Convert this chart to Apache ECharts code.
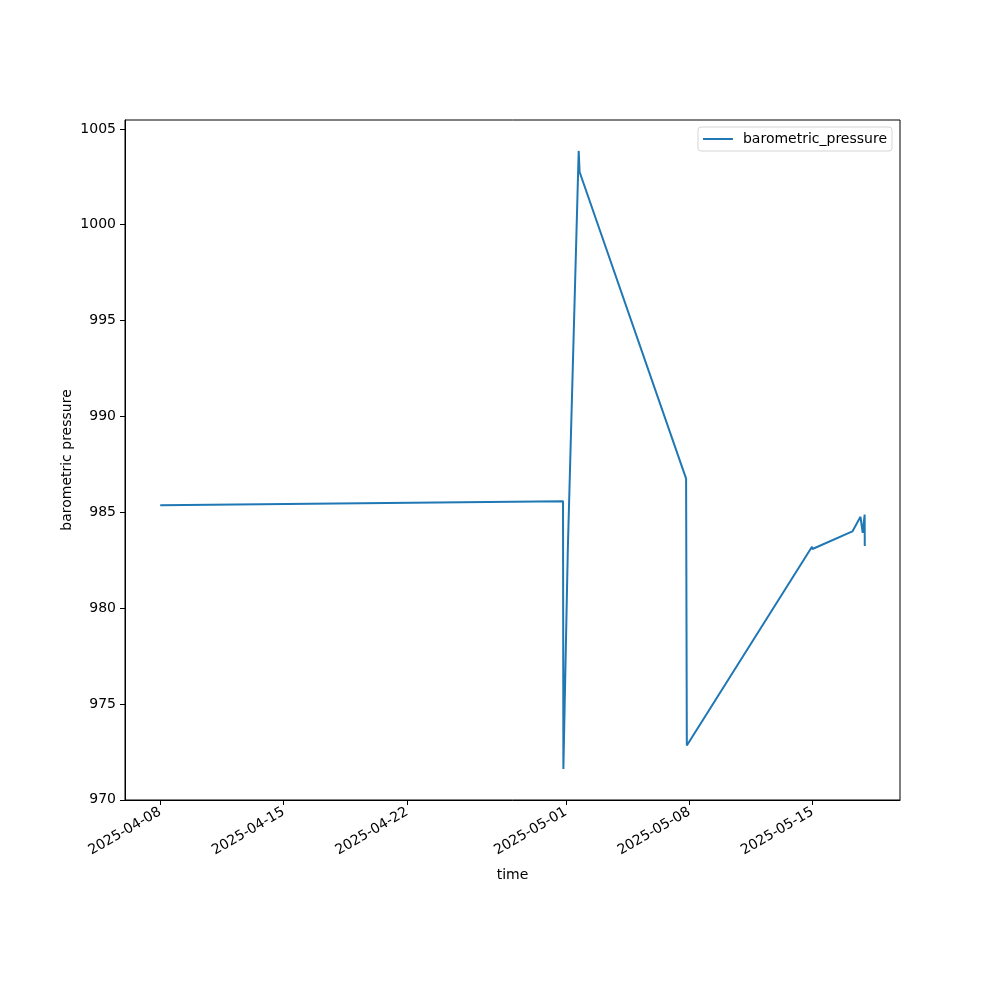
<!DOCTYPE html>
<html>
<head>
<meta charset="utf-8">
<script src="https://cdn.jsdelivr.net/npm/echarts@6/dist/echarts.min.js"></script>
<style>
  html, body { margin: 0; padding: 0; background: #fff; }
  #chart { width: 1000px; height: 1000px; }
</style>
</head>
<body>
<div id="chart"></div>
<script>
// readings (UTC)
const times = [
  "2025-04-08 00:00", "2025-04-30 20:10", "2025-04-30 20:40", "2025-05-01 02:40",
  "2025-05-01 17:30", "2025-05-01 18:45", "2025-05-07 19:40", "2025-05-07 20:40",
  "2025-05-14 23:00", "2025-05-14 23:40", "2025-05-17 06:00", "2025-05-17 08:10",
  "2025-05-17 17:00", "2025-05-17 20:00", "2025-05-17 22:40", "2025-05-17 22:50"
];
const pressure = [
  985.36, 985.57, 971.6, 983.0,
  1003.85, 1002.75, 986.75, 972.83,
  983.2, 983.08, 984.0, 983.9,
  984.76, 983.92, 984.88, 983.24
];
const xTicks = ["2025-04-08", "2025-04-15", "2025-04-22", "2025-05-01", "2025-05-08", "2025-05-15"];
const yTicks = [970, 975, 980, 985, 990, 995, 1000, 1005];

function toMs(s) {
  const [d, t] = s.split(" ");
  const [Y, M, D] = d.split("-").map(Number);
  const [h, m] = (t || "00:00").split(":").map(Number);
  return Date.UTC(Y, M - 1, D, h, m);
}
function fmt(ms) {
  const d = new Date(ms);
  const p = n => String(n).padStart(2, "0");
  return d.getUTCFullYear() + "-" + p(d.getUTCMonth() + 1) + "-" + p(d.getUTCDate());
}

const xs = times.map(toMs);
const xMin = xs[0], xMax = xs[xs.length - 1];
const xPad = (xMax - xMin) * 0.05;
const yMin = Math.min(...pressure), yMax = Math.max(...pressure);
const yPad = (yMax - yMin) * 0.05;

const font = "DejaVu Sans";
const chart = echarts.init(document.getElementById("chart"));
chart.setOption({
  animation: false,
  textStyle: { fontFamily: font },
  grid: { left: 125, right: 100, top: 120, bottom: 200, show: true, borderColor: "#000", borderWidth: 1 },
  legend: {
    right: 108, top: 127,
    data: ["barometric_pressure"],
    icon: "path://M0,0 L30,0 L30,2 L0,2 Z",
    itemWidth: 30, itemHeight: 2, itemGap: 10,
    padding: [5, 5, 5, 5],
    borderColor: "#d5d5d5", borderWidth: 1, borderRadius: 3,
    textStyle: { fontFamily: font, fontSize: 14, color: "#000", padding: [0, 0, 0, 5] }
  },
  xAxis: {
    type: "value",
    min: xMin - xPad, max: xMax + xPad,
    name: "time", nameLocation: "middle", nameGap: 68,
    nameTextStyle: { fontFamily: font, fontSize: 14, color: "#000" },
    splitLine: { show: false },
    axisLine: { lineStyle: { color: "#000" } },
    axisTick: { customValues: xTicks.map(toMs), length: 5, lineStyle: { color: "#000" } },
    axisLabel: {
      customValues: xTicks.map(toMs), rotate: 30, margin: 11,
      fontFamily: font, fontSize: 14, color: "#000",
      formatter: v => fmt(v)
    }
  },
  yAxis: {
    type: "value",
    min: yMin - yPad, max: yMax + yPad,
    name: "barometric pressure", nameLocation: "middle", nameGap: 51,
    nameMoveOverlap: false,
    nameTextStyle: { fontFamily: font, fontSize: 14, color: "#000" },
    splitLine: { show: false },
    axisLine: { show: true, lineStyle: { color: "#000" } },
    axisTick: { show: true, customValues: yTicks, length: 5, lineStyle: { color: "#000" } },
    axisLabel: { customValues: yTicks, margin: 9, fontFamily: font, fontSize: 14, color: "#000", formatter: v => String(v) }
  },
  series: [{
    name: "barometric_pressure",
    type: "line",
    data: xs.map((x, i) => [x, pressure[i]]),
    showSymbol: false,
    color: "#1f77b4",
    lineStyle: { width: 2, color: "#1f77b4" }
  }]
});
</script>
</body>
</html>
